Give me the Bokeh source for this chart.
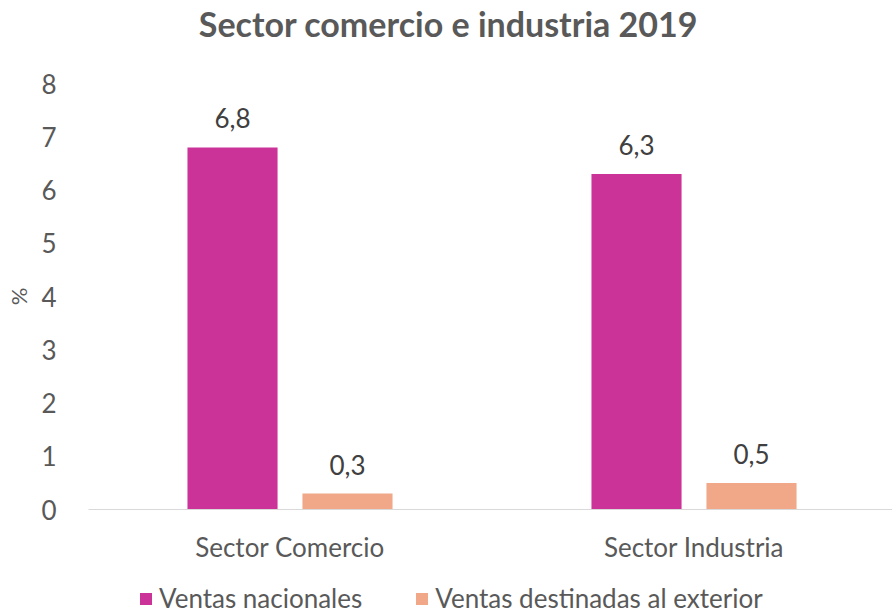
from bokeh.plotting import figure
from bokeh.layouts import column
from bokeh.models import Range1d, FixedTicker, Legend, LegendItem, ColumnDataSource, Label
from bokeh.transform import dodge
from bokeh.embed import file_html
from bokeh.resources import INLINE
from bokeh.core.properties import value

title_text = "Sector comercio e industria 2019"
categories = ["Sector Comercio", "Sector Industria"]
series_names = ["Ventas nacionales", "Ventas destinadas al exterior"]
ventas_nacionales = [6.8, 6.3]
ventas_exterior = [0.3, 0.5]
y_ticks = [0, 1, 2, 3, 4, 5, 6, 7, 8]
y_label = "%"

COL_NAC = "#CC3399"
COL_EXT = "#F0A889"
TXT = "#595959"
FONT = "Lato"
W_FIG = 892
LEFT = 88

cat_pos = [i + 0.5 for i in range(len(categories))]
src = ColumnDataSource(dict(
    x=cat_pos,
    nac=ventas_nacionales,
    ext=ventas_exterior,
    nac_lbl=[f"{v:.1f}".replace(".", ",") for v in ventas_nacionales],
    ext_lbl=[f"{v:.1f}".replace(".", ",") for v in ventas_exterior],
))

# ---- title strip
pt = figure(width=W_FIG, height=50, output_backend="svg", toolbar_location=None, title=None,
            x_range=Range1d(LEFT, W_FIG), y_range=Range1d(0, 50),
            x_axis_location=None, y_axis_location=None,
            min_border_left=LEFT, min_border_right=0, min_border_top=0, min_border_bottom=0)
pt.xgrid.visible = False
pt.ygrid.visible = False
pt.outline_line_color = None
pt.add_layout(Label(x=448, y=27, text=title_text, text_align="center", text_baseline="middle",
                    text_font=FONT, text_font_size="34px", text_font_style="bold",
                    text_color=TXT))

# ---- main chart
p = figure(width=W_FIG, height=520, output_backend="svg", toolbar_location=None, title=None,
           x_range=Range1d(0.00124, 1.9913), y_range=Range1d(0, 8),
           min_border_left=LEFT, min_border_right=0, min_border_top=33, min_border_bottom=61)
p.outline_line_color = None
p.xgrid.visible = False
p.ygrid.visible = False

OFF = 0.1423
W = 0.223
p.vbar(x=dodge("x", -OFF, range=p.x_range), top="nac", width=W, source=src,
       fill_color=COL_NAC, line_color=None)
p.vbar(x=dodge("x", OFF, range=p.x_range), top="ext", width=W, source=src,
       fill_color=COL_EXT, line_color=None)

for xo, col in [(-OFF, "nac"), (OFF, "ext")]:
    p.text(x=dodge("x", xo, range=p.x_range), y=col, text=col + "_lbl", source=src,
           text_align="center", text_baseline="middle", y_offset=-29,
           text_font=value(FONT), text_font_size="26px", text_color="#404040")

p.xaxis.ticker = FixedTicker(ticks=cat_pos)
p.xaxis.major_label_overrides = {c: n for c, n in zip(cat_pos, categories)}
p.xaxis.axis_line_color = "#D9D9D9"
p.xaxis.axis_line_width = 1
p.xaxis.major_tick_line_color = None
p.xaxis.minor_tick_line_color = None
p.xaxis.major_label_standoff = 15
p.xaxis.major_label_text_font = FONT
p.xaxis.major_label_text_font_size = "26px"
p.xaxis.major_label_text_color = TXT

p.yaxis.ticker = FixedTicker(ticks=y_ticks)
p.yaxis.axis_line_color = None
p.yaxis.major_tick_line_color = None
p.yaxis.minor_tick_line_color = None
p.yaxis.major_label_standoff = 26
p.yaxis.major_label_text_font = FONT
p.yaxis.major_label_text_font_size = "26px"
p.yaxis.major_label_text_color = TXT
p.yaxis.axis_label = y_label
p.yaxis.axis_label_text_font = FONT
p.yaxis.axis_label_text_font_style = "normal"
p.yaxis.axis_label_text_font_size = "22px"
p.yaxis.axis_label_text_color = TXT
p.yaxis.axis_label_standoff = 6

# ---- legend strip
pl = figure(width=W_FIG, height=44, output_backend="svg", toolbar_location=None, title=None,
            x_range=Range1d(0, 1), y_range=Range1d(-1, 0),
            x_axis_location=None, y_axis_location=None,
            min_border_left=LEFT, min_border_right=0, min_border_top=0, min_border_bottom=0)
pl.xgrid.visible = False
pl.ygrid.visible = False
pl.outline_line_color = None
l1 = pl.vbar(x="x", top="nac", width=0.1, source=src, fill_color=COL_NAC, line_color=None)
l2 = pl.vbar(x="x", top="ext", width=0.1, source=src, fill_color=COL_EXT, line_color=None)
l1.visible = False
l2.visible = False

legend = Legend(items=[LegendItem(label=series_names[0], renderers=[l1]),
                       LegendItem(label=series_names[1], renderers=[l2])],
                orientation="horizontal", location=(50, 0),
                glyph_width=15, glyph_height=15, label_standoff=6, spacing=52,
                padding=0, margin=0, border_line_color=None, background_fill_alpha=0,
                inactive_fill_alpha=0,
                label_text_font=FONT, label_text_font_size="26px", label_text_color=TXT)
pl.add_layout(legend, "center")

layout = column(pt, p, pl, spacing=0)
open("out.html", "w").write(file_html(layout, INLINE))
